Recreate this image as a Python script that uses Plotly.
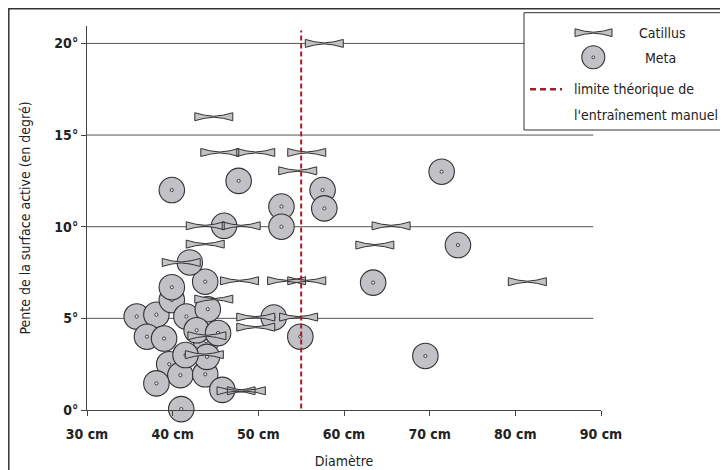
import plotly.graph_objects as go

# ---------------- data ----------------
catillus_diam = [57.7, 44.8, 45.5, 49.7, 55.65, 54.6, 43.8, 48.0, 65.5, 43.8, 63.6, 41.0,
                 47.8, 53.3, 55.65, 81.4, 44.8, 49.7, 54.7, 49.7, 44.0, 43.7, 47.4, 48.6]
catillus_slope = [20.0, 16.0, 14.05, 14.05, 14.05, 13.05, 10.05, 10.05, 10.05, 9.05, 9.0, 8.05,
                  7.05, 7.05, 7.05, 7.0, 6.05, 5.07, 5.07, 4.52, 4.05, 3.02, 1.05, 1.05]

meta_diam = [35.8, 38.1, 37.0, 39.0, 39.9, 39.9, 41.6, 43.8, 44.1, 39.6, 40.9, 38.1, 43.8, 41.0,
             43.9, 44.0, 45.8, 42.8, 45.3, 41.5, 42.0, 39.9, 47.7, 52.7, 52.7, 57.5, 57.7, 46.0,
             63.4, 51.8, 54.9, 71.4, 73.3, 69.5]
meta_slope = [5.1, 5.2, 4.0, 3.9, 6.0, 6.7, 5.1, 7.0, 5.5, 2.5, 1.9, 1.45, 1.95, 0.05,
              3.75, 2.9, 1.1, 4.35, 4.2, 3.0, 8.05, 12.0, 12.5, 11.1, 10.0, 12.0, 11.0, 10.05,
              6.95, 5.05, 4.0, 13.0, 9.0, 2.95]

limit_diam = 55  # limite théorique de l'entraînement manuel

x_tickvals = [30, 40, 50, 60, 70, 80, 90]
x_ticktext = ["30 cm", "40 cm", "50 cm", "60 cm", "70 cm", "80 cm", "90 cm"]
y_tickvals = [0, 5, 10, 15, 20]
y_ticktext = ["0°", "5°", "10°", "15°", "20°"]

# ---------------- styling ----------------
FILL = "#c2c2c6"
EDGE = "#333333"
RED = "#a51e26"
FONT = "Liberation Sans Narrow, DejaVu Sans Condensed, Arial Narrow, sans-serif"

OFF = 8                      # page body margin offset
W, H = 728 - OFF, 470 - OFF  # figure size
# plot-area edges in page pixels
PL, PR, PT, PB = 87, 601, 26, 410
L, R, T, B = PL - OFF, PR - OFF, PT - OFF, PB - OFF
X0, X1 = 30, 90
Y0, Y1 = 0, 20.95

def px_x(p):  # page pixel -> paper
    return (p - PL) / (PR - PL)

def px_y(p):
    return (PB - p) / (PB - PT)

# bowtie outline (unit shape), scaled into data units
cm_per_px = (X1 - X0) / (PR - PL)
deg_per_px = (Y1 - Y0) / (PB - PT)
HW = 19 * cm_per_px
HH = 4.0 * deg_per_px
unit = [(-1, 1), (-0.5, 0.4), (0, 0.12), (0.5, 0.4), (1, 1),
        (1, -1), (0.5, -0.4), (0, -0.12), (-0.5, -0.4), (-1, -1), (-1, 1)]

fig = go.Figure()

# Meta: each millstone drawn as a circle followed by its centre dot
for mx, my in zip(meta_diam, meta_slope):
    fig.add_trace(go.Scatter(
        x=[mx], y=[my], mode="markers", name="Meta",
        marker=dict(symbol="circle", size=25.5, color=FILL, line=dict(color=EDGE, width=1.1)),
        cliponaxis=False, showlegend=False, hoverinfo="x+y"))
    fig.add_trace(go.Scatter(
        x=[mx], y=[my], mode="markers", name="Meta",
        marker=dict(symbol="circle", size=3.2, color="#e8e8e8", line=dict(color=EDGE, width=0.9)),
        cliponaxis=False, showlegend=False, hoverinfo="skip"))

# Catillus: bowtie outlines
bx, by = [], []
for cx, cy in zip(catillus_diam, catillus_slope):
    for ux, uy in unit:
        bx.append(cx + ux * HW)
        by.append(cy + uy * HH)
    bx.append(None)
    by.append(None)

fig.add_trace(go.Scatter(
    x=bx, y=by, mode="lines", name="Catillus", fill="toself", fillcolor=FILL,
    line=dict(color=EDGE, width=1), cliponaxis=False, showlegend=False, hoverinfo="skip"))

shapes = []
# horizontal grid lines
for v in y_tickvals[1:]:
    shapes.append(dict(type="line", xref="x", yref="y", x0=X0, x1=89.1, y0=v, y1=v,
                       line=dict(color="#555555", width=1), layer="below"))
# limit line
shapes.append(dict(type="line", xref="x", yref="y", x0=limit_diam, x1=limit_diam,
                   y0=-0.35, y1=20.7, line=dict(color=RED, width=2, dash="5px,3px"),
                   layer="above"))
# outer frame
shapes.append(dict(type="rect", xref="paper", yref="paper",
                   x0=px_x(8.8), x1=px_x(740), y0=px_y(490), y1=px_y(8.8),
                   line=dict(color="#333333", width=1.5), layer="below"))
# legend box
shapes.append(dict(type="rect", xref="paper", yref="paper",
                   x0=px_x(524), x1=px_x(727), y0=px_y(130), y1=px_y(12.7),
                   fillcolor="white", line=dict(color="#333333", width=1), layer="above"))
# legend bowtie icon
lcx, lcy = 593.5, 32.7
pts = [(px_x(lcx + ux * 18.5), px_y(lcy - uy * 3.9)) for ux, uy in unit]
path = "M" + " L".join(f"{a:.5f},{b:.5f}" for a, b in pts) + " Z"
shapes.append(dict(type="path", xref="paper", yref="paper", path=path,
                   fillcolor=FILL, line=dict(color=EDGE, width=1), layer="above"))
# legend circle icon
ccx, ccy, rr = 593.3, 57.3, 11.5
shapes.append(dict(type="circle", xref="paper", yref="paper",
                   x0=px_x(ccx - rr), x1=px_x(ccx + rr), y0=px_y(ccy + rr), y1=px_y(ccy - rr),
                   fillcolor=FILL, line=dict(color=EDGE, width=1.1), layer="above"))
shapes.append(dict(type="circle", xref="paper", yref="paper",
                   x0=px_x(ccx - 1.4), x1=px_x(ccx + 1.4), y0=px_y(ccy + 1.4), y1=px_y(ccy - 1.4),
                   fillcolor="#e8e8e8", line=dict(color=EDGE, width=0.9), layer="above"))
# legend dashed line
shapes.append(dict(type="line", xref="paper", yref="paper",
                   x0=px_x(530), x1=px_x(562), y0=px_y(89.3), y1=px_y(89.3),
                   line=dict(color=RED, width=2.5, dash="6px,4px"), layer="above"))

annotations = [
    dict(text="Catillus", x=px_x(662), y=px_y(33), xanchor="center", yanchor="middle"),
    dict(text="Meta", x=px_x(660), y=px_y(57.5), xanchor="center", yanchor="middle"),
    dict(text="limite théorique de", x=px_x(572), y=px_y(89), xanchor="left", yanchor="middle"),
    dict(text="l'entraînement manuel", x=px_x(572), y=px_y(114.5), xanchor="left", yanchor="middle"),
]
for a in annotations:
    a.update(xref="paper", yref="paper", showarrow=False,
             font=dict(family=FONT, size=14, color="#222222"))

fig.update_layout(
    width=W, height=H,
    margin=dict(l=L, r=W - R, t=T, b=H - B, pad=0, autoexpand=False),
    paper_bgcolor="white", plot_bgcolor="white",
    showlegend=False,
    shapes=shapes, annotations=annotations,
    font=dict(family=FONT, color="#222222"),
    xaxis=dict(range=[X0, X1], tickvals=x_tickvals, ticktext=x_ticktext, automargin=False,
               showgrid=False, zeroline=False, showline=True, linecolor="#444444", linewidth=1,
               ticks="outside", ticklen=5, tickcolor="#444444",
               tickfont=dict(family=FONT, size=14, color="#222222", weight="bold"),
               ticklabelstandoff=6,
               title=dict(text="Diamètre", font=dict(family=FONT, size=14, color="#222222"),
                          standoff=15)),
    yaxis=dict(range=[Y0, Y1], tickvals=y_tickvals, ticktext=y_ticktext, automargin=False,
               showgrid=False, zeroline=False, showline=True, linecolor="#444444", linewidth=1,
               ticks="outside", ticklen=5, tickcolor="#444444",
               tickfont=dict(family=FONT, size=14, color="#222222", weight="bold"),
               title=dict(text="Pente de la surface active (en degré)",
                          font=dict(family=FONT, size=14, color="#222222"), standoff=20)),
)

fig.write_html("out.html")
